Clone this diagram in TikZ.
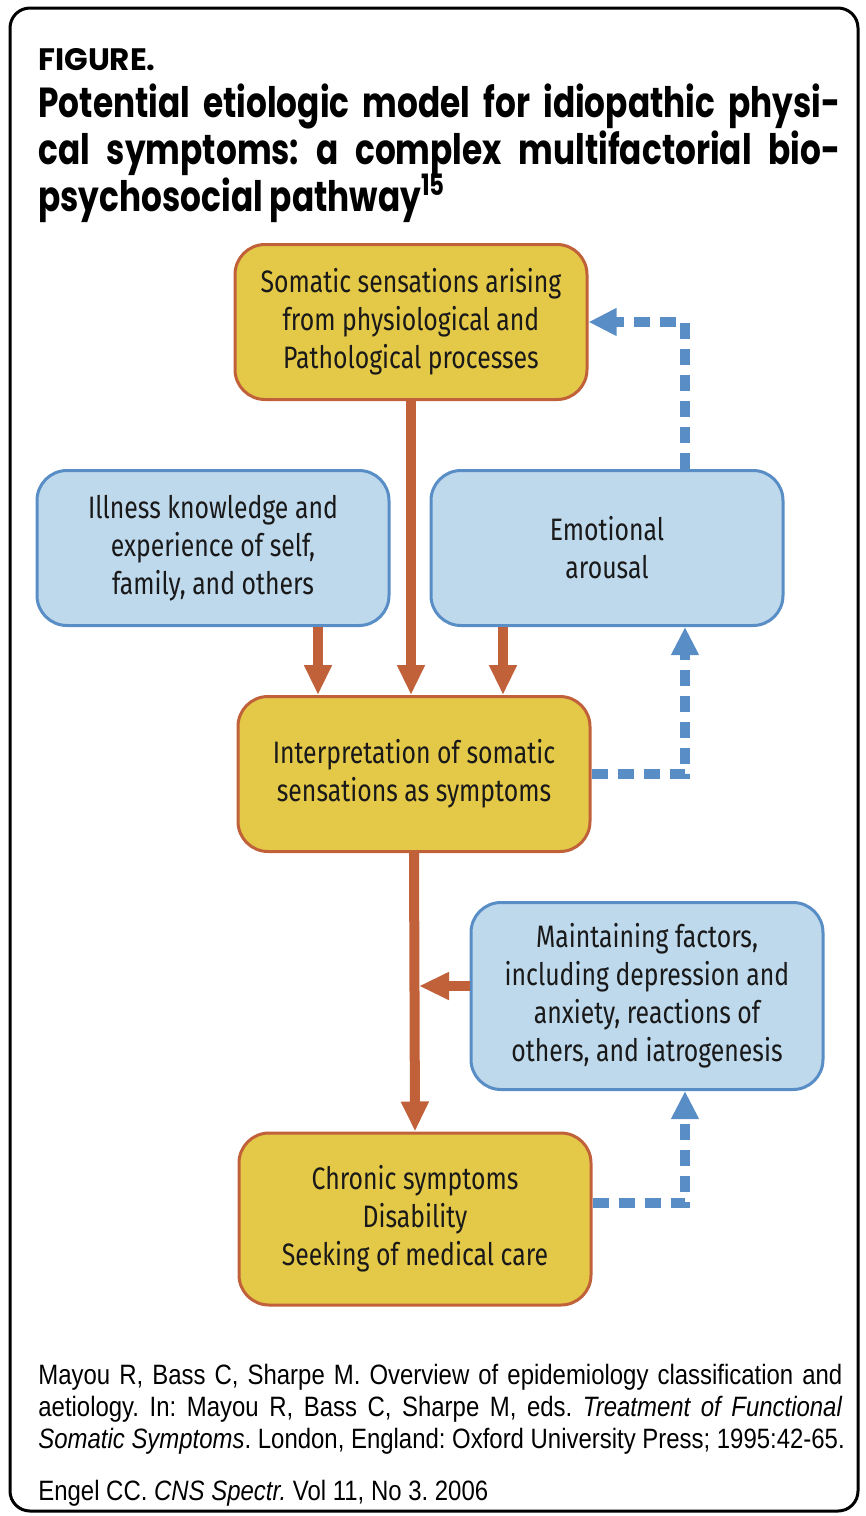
\documentclass[tikz,border=0pt]{standalone}
\usepackage{fontspec}
\setmainfont{Liberation Sans}
\newfontfamily\boxfont[FakeStretch=0.8]{Fira Sans}
\newfontfamily\headfont[FakeStretch=0.78]{Poppins}
\newfontfamily\figfont{Poppins}
\newfontfamily\notefont[FakeStretch=0.855]{Liberation Sans}
\usetikzlibrary{arrows.meta}

\definecolor{boxyellow}{RGB}{228,200,72}
\definecolor{rust}{RGB}{193,97,58}
\definecolor{paleblue}{RGB}{190,216,236}
\definecolor{steelblue}{RGB}{88,141,198}

\begin{document}
\frenchspacing
\begin{tikzpicture}[x=0.5pt, y=-0.5pt,
	stage/.style={draw=rust, line width=1.5pt, fill=boxyellow, rounded corners=15pt, minimum width=176pt, minimum height=77.5pt, align=center, font=\boxfont\fontsize{15.5}{19}\selectfont, text=black!90},
	factor/.style={stage, draw=steelblue, fill=paleblue},
	push/.style={draw=rust, line width=5pt, -{Triangle[width=13pt,length=15pt]}},
	loop/.style={draw=steelblue, line width=5pt, dash pattern=on 8pt off 5pt, -{Triangle[width=13pt,length=14pt]}},
	headline/.style={anchor=base west, inner sep=0pt, font=\headfont\bfseries\fontsize{21}{23.5}\selectfont},
	noteline/.style={anchor=base west, inner sep=0pt, font=\notefont\fontsize{14}{16}\selectfont}]
	\useasboundingbox (0,0) rectangle (866,1516);
	\draw[line width=1.5pt, rounded corners=10pt] (10,8) rectangle (858,1511);

	% heading
	\node[headline, font=\figfont\bfseries\fontsize{15.5}{18}\selectfont] (figlabel) at (38,70) {FIGURE.};
	\node[headline] (title1) at (38,117) {\makebox[401pt][s]{Potential etiologic model for idiopathic physi-}};
	\node[headline] (title2) at (38,164) {\makebox[401pt][s]{cal symptoms: a complex multifactorial bio-}};
	\node[headline] (title3) at (38,211) {psychosocial pathway\textsuperscript{15}};

	% boxes
	\node[stage] (soma) at (411,322) {Somatic sensations arising\\from physiological and\\Pathological processes};
	\node[factor] (illness) at (213,548) {Illness knowledge and\\experience of self,\\family, and others};
	\node[factor] (emotion) at (607,548) {Emotional\\arousal};
	\node[stage] (interp) at (414,774) {Interpretation of somatic\\sensations as symptoms};
	\node[factor, minimum height=93.5pt] (maint) at (647,996) {Maintaining factors,\\including depression and\\anxiety, reactions of\\others, and iatrogenesis};
	\node[stage, minimum height=86pt] (chronic) at (415,1219) {Chronic symptoms\\Disability\\Seeking of medical care};

	% solid arrows
	\draw[push] (soma.south) -- (soma.south |- interp.north);
	\draw[push] ([xshift=52.5pt]illness.south) -- ([xshift=52.5pt]illness.south |- interp.north);
	\draw[push] ([xshift=-52pt]emotion.south) -- ([xshift=-52pt]emotion.south |- interp.north);
	\draw[push] (interp.south) -- (chronic.north);
	\coordinate (joint) at ([xshift=2.5pt]interp.south |- maint.west);
	\draw[push] ([yshift=5pt]maint.west) -- ([yshift=5pt]joint);

	% dashed feedback
	\draw[loop] ([xshift=39pt]emotion.north) |- (soma.east);
	\draw[loop] (interp.east) -| ([xshift=39pt]emotion.south);
	\draw[loop] ([yshift=8pt]chronic.east) -| ([xshift=19pt]maint.south);

	% source
	\node[noteline] (note1) at (38,1384) {\makebox[402pt][s]{Mayou R, Bass C, Sharpe M. Overview of epidemiology classification and}};
	\node[noteline] (note2) at (38,1416) {\makebox[402pt][s]{aetiology. In: Mayou R, Bass C, Sharpe M, eds. \textit{Treatment of Functional}}};
	\node[noteline] (note3) at (38,1448) {\textit{Somatic Symptoms}. London, England: Oxford University Press; 1995:42-65.};
	\node[noteline] (note4) at (38,1500) {Engel CC. \textit{CNS Spectr.} Vol 11, No 3. 2006};
\end{tikzpicture}
\end{document}
